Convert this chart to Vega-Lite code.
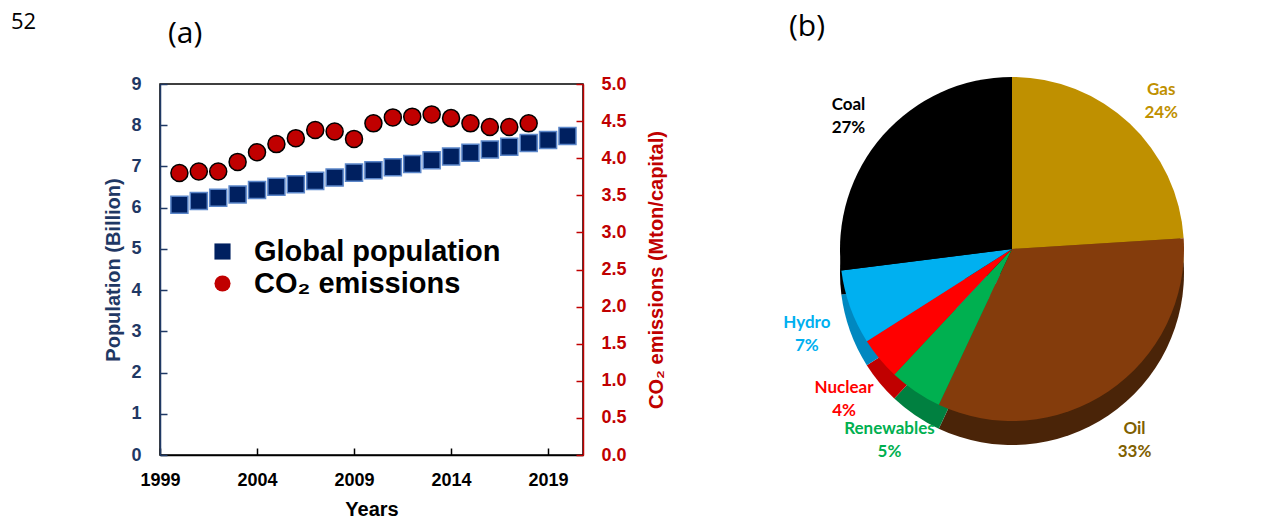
{
  "$schema": "https://vega.github.io/schema/vega-lite/v6.json",
  "background": "white",
  "padding": {"left": 10, "top": 11, "right": 0, "bottom": 0},
  "title": {
    "text": "52",
    "orient": "left",
    "angle": 0,
    "anchor": "end",
    "frame": "bounds",
    "align": "right",
    "baseline": "top",
    "font": "Open Sans",
    "fontSize": 22,
    "fontWeight": "normal",
    "color": "black",
    "offset": 42
  },
  "config": {
    "font": "Liberation Sans",
    "view": {"stroke": "black", "strokeWidth": 1.5},
    "axis": {
      "grid": false,
      "labelFlush": false,
      "labelFontWeight": "bold",
      "titleFontWeight": "bold",
      "labelFontSize": 18,
      "titleFontSize": 20,
      "domainWidth": 1.5,
      "tickWidth": 1.5,
      "tickSize": -7,
      "zindex": 1
    }
  },
  "resolve": {"scale": {"color": "independent", "shape": "independent"}},
  "spacing": 80,
  "hconcat": [
    {
      "width": 423,
      "height": 371,
      "title": {
        "text": "(a)",
        "font": "Open Sans",
        "fontSize": 30,
        "fontWeight": "normal",
        "color": "black",
        "anchor": "start",
        "dx": 64,
        "offset": 26
      },
      "data": {
        "values": [
          {"year": 2000, "population": 6.07, "co2": 3.80},
          {"year": 2001, "population": 6.16, "co2": 3.82},
          {"year": 2002, "population": 6.24, "co2": 3.82},
          {"year": 2003, "population": 6.32, "co2": 3.95},
          {"year": 2004, "population": 6.43, "co2": 4.08},
          {"year": 2005, "population": 6.51, "co2": 4.19},
          {"year": 2006, "population": 6.57, "co2": 4.27},
          {"year": 2007, "population": 6.65, "co2": 4.38},
          {"year": 2008, "population": 6.73, "co2": 4.36},
          {"year": 2009, "population": 6.85, "co2": 4.26},
          {"year": 2010, "population": 6.91, "co2": 4.47},
          {"year": 2011, "population": 6.98, "co2": 4.55},
          {"year": 2012, "population": 7.06, "co2": 4.56},
          {"year": 2013, "population": 7.15, "co2": 4.59},
          {"year": 2014, "population": 7.24, "co2": 4.54},
          {"year": 2015, "population": 7.33, "co2": 4.47},
          {"year": 2016, "population": 7.41, "co2": 4.42},
          {"year": 2017, "population": 7.48, "co2": 4.42},
          {"year": 2018, "population": 7.57, "co2": 4.47},
          {"year": 2019, "population": 7.64, "co2": null},
          {"year": 2020, "population": 7.74, "co2": null}
        ]
      },
      "encoding": {
        "x": {
          "field": "year",
          "type": "quantitative",
          "scale": {"domain": [1999, 2020.8], "nice": false, "zero": false},
          "axis": {
            "values": [1999, 2004, 2009, 2014, 2019],
            "format": "d",
            "title": "Years",
            "labelColor": "black",
            "titleColor": "black",
            "domainColor": "black",
            "tickColor": "black",
            "labelPadding": 23,
            "titlePadding": 10
          }
        }
      },
      "layer": [
        {
          "mark": {"type": "point", "filled": true, "size": 290, "stroke": "#5b86c9", "strokeWidth": 1.5, "opacity": 1},
          "encoding": {
            "y": {
              "field": "population",
              "type": "quantitative",
              "scale": {"domain": [0, 9], "nice": false},
              "axis": {
                "values": [0, 1, 2, 3, 4, 5, 6, 7, 8, 9],
                "title": "Population (Billion)",
                "labelColor": "#1f3864",
                "titleColor": "#1f3864",
                "domainColor": "#1f3864",
                "tickColor": "#1f3864",
                "labelPadding": 26,
                "titlePadding": 7
              }
            },
            "color": {
              "datum": "Global population",
              "type": "nominal",
              "scale": {"domain": ["Global population", "CO₂ emissions"], "range": ["#002060", "#c00000"]},
              "legend": {
                "title": null,
                "orient": "none",
                "legendX": 48,
                "legendY": 153,
                "labelFontSize": 29,
                "labelFontWeight": "bold",
                "labelColor": "black",
                "labelFont": "Liberation Sans",
                "labelLimit": 0,
                "symbolSize": 260,
                "symbolStrokeWidth": 0,
                "labelOffset": 17,
                "rowPadding": 2
              }
            },
            "shape": {
              "datum": "Global population",
              "type": "nominal",
              "scale": {"domain": ["Global population", "CO₂ emissions"], "range": ["square", "circle"]}
            }
          }
        },
        {
          "transform": [{"filter": "isValid(datum.co2)"}],
          "mark": {"type": "point", "filled": true, "size": 290, "stroke": "black", "strokeWidth": 1.5, "opacity": 1},
          "encoding": {
            "y": {
              "field": "co2",
              "type": "quantitative",
              "scale": {"domain": [0, 5], "nice": false},
              "axis": {
                "orient": "right",
                "values": [0, 0.5, 1, 1.5, 2, 2.5, 3, 3.5, 4, 4.5, 5],
                "format": ".1f",
                "title": "CO₂ emissions (Mton/capital)",
                "titleAngle": 270,
                "titleBaseline": "top",
                "labelColor": "#c00000",
                "titleColor": "#c00000",
                "domainColor": "#c00000",
                "tickColor": "#c00000",
                "labelPadding": 25,
                "titlePadding": 20
              }
            },
            "color": {"datum": "CO₂ emissions", "type": "nominal"},
            "shape": {"datum": "CO₂ emissions", "type": "nominal"}
          }
        }
      ],
      "resolve": {"scale": {"y": "independent"}}
    },
    {
      "width": 530,
      "height": 330,
      "view": {"stroke": null},
      "title": {
        "text": "(b)",
        "font": "Open Sans",
        "fontSize": 30,
        "fontWeight": "normal",
        "color": "black",
        "anchor": "start",
        "dx": 42,
        "offset": 35
      },
      "data": {
        "values": [
          {"source": "Gas", "share": 24, "ord": 1},
          {"source": "Oil", "share": 33, "ord": 2},
          {"source": "Renewables", "share": 5, "ord": 3},
          {"source": "Nuclear", "share": 4, "ord": 4},
          {"source": "Hydro", "share": 7, "ord": 5},
          {"source": "Coal", "share": 27, "ord": 6}
        ]
      },
      "encoding": {
        "theta": {"field": "share", "type": "quantitative", "stack": true},
        "order": {"field": "ord", "type": "quantitative"}
      },
      "layer": [
        {
          "mark": {"type": "arc", "outerRadius": 172, "yOffset": 24},
          "encoding": {
            "color": {
              "field": "source",
              "type": "nominal",
              "scale": {
                "domain": ["Gas", "Oil", "Renewables", "Nuclear", "Hydro", "Coal"],
                "range": ["#8a6800", "#4a2408", "#008040", "#c00000", "#0088c0", "#000000"]
              },
              "legend": null
            }
          }
        },
        {
          "mark": {"type": "arc", "outerRadius": 172},
          "encoding": {
            "color": {
              "field": "source",
              "type": "nominal",
              "scale": {
                "domain": ["Gas", "Oil", "Renewables", "Nuclear", "Hydro", "Coal"],
                "range": ["#bf9000", "#843c0c", "#00b050", "#ff0000", "#00b0f0", "#000000"]
              },
              "legend": null
            }
          }
        },
        {
          "transform": [{"calculate": "[datum.source, datum.share + '%']", "as": "lbl"}],
          "mark": {"type": "text", "radius": 218, "font": "Lato", "fontSize": 17, "fontWeight": "bold", "lineHeight": 23, "align": "center", "baseline": "middle"},
          "encoding": {
            "text": {"field": "lbl", "type": "nominal"},
            "color": {
              "field": "source",
              "type": "nominal",
              "scale": {
                "domain": ["Gas", "Oil", "Renewables", "Nuclear", "Hydro", "Coal"],
                "range": ["#bf9000", "#7f6000", "#00b050", "#ff0000", "#00b0f0", "#000000"]
              },
              "legend": null
            }
          }
        }
      ],
      "resolve": {"scale": {"color": "independent"}}
    }
  ]
}
